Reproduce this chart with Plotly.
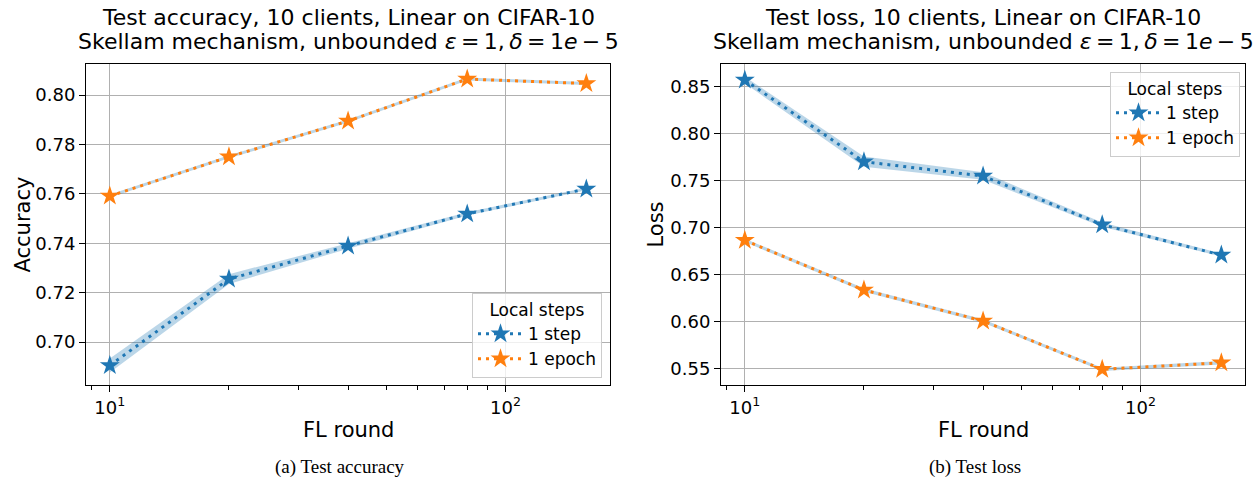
import plotly.graph_objects as go

rounds = [10, 20, 40, 80, 160]
series_names = ["1 step", "1 epoch"]

acc_step = [0.6905, 0.7255, 0.7389, 0.7519, 0.7620]
acc_epoch = [0.7591, 0.7750, 0.7895, 0.8065, 0.8047]
acc_step_err = [0.0028, 0.0020, 0.0011, 0.0007, 0.0005]
acc_epoch_err = [0.0006, 0.0006, 0.0006, 0.0006, 0.0006]

loss_step = [0.8571, 0.7701, 0.7548, 0.7030, 0.6706]
loss_epoch = [0.6863, 0.6334, 0.6004, 0.5489, 0.5559]
loss_step_err = [0.0035, 0.0055, 0.0040, 0.0022, 0.0016]
loss_epoch_err = [0.0018, 0.0018, 0.0018, 0.0018, 0.0018]

C0 = "#1f77b4"
C1 = "#ff7f0e"
BAND = "rgba(31,119,180,0.30)"
FONT = "DejaVu Sans"

W, H = 1255, 484
L1, R1 = 86, 610
L2, R2 = 721, 1245
TOP, BOT = 64, 385

def px(x):
    return x / W

def py(y):
    return 1 - y / H

fig = go.Figure()

def add_panel(xa, ya, legend, ys, errs):
    for y, e in zip(ys, errs):
        up = [a + b for a, b in zip(y, e)]
        lo = [a - b for a, b in zip(y, e)]
        fig.add_trace(go.Scatter(
            x=rounds + rounds[::-1], y=up + lo[::-1], fill="toself",
            fillcolor=BAND, line=dict(width=0), mode="lines",
            hoverinfo="skip", showlegend=False, xaxis=xa, yaxis=ya))
    for name, y, col in zip(series_names, ys, [C0, C1]):
        fig.add_trace(go.Scatter(
            x=rounds, y=y, name=name, mode="lines+markers",
            line=dict(color=col, width=3, dash="3px,5px"),
            marker=dict(symbol="star", size=15, color=col, line=dict(width=0)),
            xaxis=xa, yaxis=ya, legend=legend))

add_panel("x", "y", "legend", [acc_step, acc_epoch], [acc_step_err, acc_epoch_err])
add_panel("x2", "y2", "legend2", [loss_step, loss_epoch], [loss_step_err, loss_epoch_err])

TICKFONT = dict(family=FONT, size=18, color="black")
xcommon = dict(
    type="log", range=[0.9398, 2.2639],
    tickvals=[10, 100], ticktext=["10<sup>1</sup>", "10<sup>2</sup>"],
    ticks="outside", ticklen=6, tickcolor="black", tickwidth=1,
    showgrid=True, gridcolor="#b0b0b0", gridwidth=1,
    showline=True, linecolor="black", linewidth=1, mirror=True,
    tickfont=TICKFONT,
    minor=dict(ticks="outside", ticklen=3.5, tickcolor="black", dtick="D1", showgrid=False),
    zeroline=False,
)
ycommon = dict(
    ticks="outside", ticklen=6, tickcolor="black", tickwidth=1,
    showgrid=True, gridcolor="#b0b0b0", gridwidth=1,
    showline=True, linecolor="black", linewidth=1, mirror=True,
    tickfont=TICKFONT, zeroline=False,
)

acc_ticks = [0.70, 0.72, 0.74, 0.76, 0.78, 0.80]
loss_ticks = [0.55, 0.60, 0.65, 0.70, 0.75, 0.80, 0.85]

LEGFONT = dict(family=FONT, size=17, color="black")
legcommon = dict(
    bgcolor="rgba(255,255,255,0.8)", bordercolor="#cccccc", borderwidth=1,
    font=LEGFONT,
    title=dict(text="Local steps", side="top center", font=LEGFONT),
    itemwidth=45, tracegroupgap=0,
)

fig.update_layout(
    width=W, height=H,
    margin=dict(l=0, r=0, t=0, b=0),
    paper_bgcolor="white", plot_bgcolor="white",
    font=dict(family=FONT, color="black"),
    xaxis=dict(xcommon, domain=[px(L1), px(R1)], anchor="y"),
    yaxis=dict(ycommon, domain=[py(BOT), py(TOP)], anchor="x",
               range=[0.6826, 0.8126], tickvals=acc_ticks,
               ticktext=[f"{v:.2f}" for v in acc_ticks]),
    xaxis2=dict(xcommon, domain=[px(L2), px(R2)], anchor="y2"),
    yaxis2=dict(ycommon, domain=[py(BOT), py(TOP)], anchor="x2",
                range=[0.5322, 0.8742], tickvals=loss_ticks,
                ticktext=[f"{v:.2f}" for v in loss_ticks]),
    legend=dict(legcommon, x=px(602), y=py(378), xanchor="right", yanchor="bottom"),
    legend2=dict(legcommon, x=px(1240), y=py(72), xanchor="right", yanchor="top"),
)

titles = [
    ("Test accuracy, 10 clients, Linear on CIFAR-10", (L1 + R1) / 2),
    ("Test loss, 10 clients, Linear on CIFAR-10", (L2 + R2) / 2),
]
T = "\u2009"
sub = (f"Skellam mechanism, unbounded <i>ε</i>{T}={T}1,{T}<i>δ</i>{T}={T}1<i>e</i>{T}−{T}5")
TFONT = dict(family=FONT, size=22, color="black")
for t, cx in titles:
    fig.add_annotation(text=t, x=px(cx), y=py(18), xref="paper", yref="paper",
                       showarrow=False, font=TFONT, xanchor="center", yanchor="middle")
    fig.add_annotation(text=sub, x=px(cx), y=py(41), xref="paper", yref="paper",
                       showarrow=False, font=TFONT, xanchor="center", yanchor="middle")
    fig.add_annotation(text="FL round", x=px(cx), y=py(430), xref="paper", yref="paper",
                       showarrow=False, font=dict(family=FONT, size=21, color="black"),
                       xanchor="center", yanchor="middle")

fig.add_annotation(text="Accuracy", x=px(22), y=py((TOP + BOT) / 2), xref="paper", yref="paper",
                   textangle=-90, showarrow=False, font=dict(family=FONT, size=21, color="black"),
                   xanchor="center", yanchor="middle")
fig.add_annotation(text="Loss", x=px(655), y=py((TOP + BOT) / 2), xref="paper", yref="paper",
                   textangle=-90, showarrow=False, font=dict(family=FONT, size=21, color="black"),
                   xanchor="center", yanchor="middle")

SERIF = dict(family="Liberation Serif", size=19, color="black")
fig.add_annotation(text="(a) Test accuracy", x=px(340), y=py(467), xref="paper", yref="paper",
                   showarrow=False, font=SERIF, xanchor="center", yanchor="middle")
fig.add_annotation(text="(b) Test loss", x=px(975), y=py(467), xref="paper", yref="paper",
                   showarrow=False, font=SERIF, xanchor="center", yanchor="middle")

fig.write_html("out.html")
